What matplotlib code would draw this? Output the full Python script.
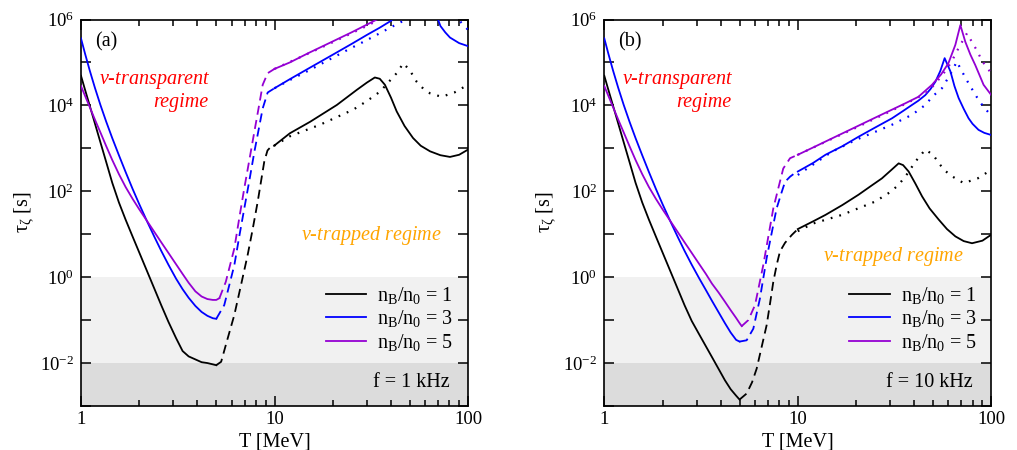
import numpy as np
import matplotlib
matplotlib.use("Agg")
import matplotlib.pyplot as plt
from matplotlib.ticker import LogLocator, FixedLocator, FuncFormatter, NullFormatter, NullLocator
from matplotlib.lines import Line2D

plt.rcParams['font.family'] = ['Liberation Serif', 'DejaVu Serif']
plt.rcParams['mathtext.fontset'] = 'custom'
plt.rcParams['mathtext.rm'] = 'Liberation Serif'
plt.rcParams['mathtext.it'] = 'Liberation Serif:italic'
plt.rcParams['mathtext.bf'] = 'Liberation Serif:bold'

BLACK, BLUE, PURPLE = '#000000', '#0000ff', '#9400d3'

# temperatures (MeV) of the low-T (neutrino-transparent) solid branch
T_low = [1.0, 1.05, 1.11, 1.18, 1.26, 1.35, 1.45, 1.57, 1.7, 1.85, 2.0, 2.2, 2.4,
         2.6, 2.83, 3.1, 3.35, 3.6, 3.9, 4.2, 4.5, 4.8, 5.0]

# ---------------- panel (a): f = 1 kHz ----------------  (values: log10(tau / s))
a_black_low_T = T_low
a_black_low_L = [4.69, 4.36, 3.99, 3.58, 3.14, 2.68, 2.20, 1.74, 1.34, 0.94, 0.575, 0.128, -0.28,
                 -0.656, -1.04, -1.42, -1.72, -1.845, -1.915, -1.98, -2.0, -2.03, -2.05]
a_black_mid_T = [5.0, 5.3, 5.7, 6.2, 6.7, 7.26, 7.7, 8.19, 8.86, 9.2, 9.5, 9.95]
a_black_mid_L = [-2.05, -1.97, -1.46, -0.88, -0.2, 0.51, 1.1, 1.76, 2.7, 2.95, 3.02, 3.06]
a_black_hi_T = [9.95, 12.0, 15.3, 21, 26.6, 30, 33, 35, 37.2, 40, 42.8, 47, 52, 57, 63.7, 72, 80.7, 90, 100]
a_black_hi_L = [3.06, 3.35, 3.62, 4.01, 4.36, 4.53, 4.65, 4.62, 4.48, 4.18, 3.86, 3.52, 3.24, 3.06, 2.93, 2.84, 2.80, 2.85, 2.97]
a_black_dot_T = [9.95, 12, 17.2, 25.5, 30, 35.1, 39, 42.8, 46.3, 50, 54.3, 59, 63.7, 73, 85, 100]
a_black_dot_L = [3.06, 3.28, 3.55, 3.90, 4.10, 4.32, 4.55, 4.75, 4.98, 4.82, 4.55, 4.38, 4.28, 4.20, 4.30, 4.48]

a_blue_low_T = T_low
a_blue_low_L = [5.56, 5.20, 4.81, 4.41, 4.01, 3.62, 3.24, 2.84, 2.45, 2.05, 1.70, 1.29, 0.93,
                0.61, 0.29, -0.035, -0.28, -0.48, -0.67, -0.81, -0.90, -0.956, -0.97]
a_blue_mid_T = [5.0, 5.5, 5.85, 6.2, 6.6, 6.98, 7.4, 7.87, 8.3, 8.69, 9.22, 10]
a_blue_mid_L = [-0.97, -0.65, -0.17, 0.28, 0.99, 1.60, 2.23, 2.92, 3.46, 3.93, 4.30, 4.40]
a_blue_hi_T = [10, 12, 15, 20, 25, 30, 35, 40, 45.6, 51.4, 57.4, 61.5, 67.8, 72, 76.3, 80.7, 90, 100]
a_blue_hi_L = [4.40, 4.61, 4.86, 5.18, 5.43, 5.64, 5.81, 5.97, 6.24, 6.55, 7.10, 6.79, 6.17, 5.85, 5.70, 5.58, 5.45, 5.38]
a_blue_dot_T = [10, 12, 15, 20, 25, 30, 35, 40, 47.8, 55.6, 62.6, 66.3, 74.6, 84, 90, 100]
a_blue_dot_L = [4.40, 4.59, 4.81, 5.11, 5.34, 5.52, 5.68, 5.82, 6.0, 6.40, 6.79, 7.02, 6.59, 6.20, 5.98, 5.76]

a_purple_low_T = T_low + [5.19]
a_purple_low_L = [4.45, 4.22, 3.96, 3.67, 3.37, 3.05, 2.73, 2.40, 2.10, 1.82, 1.58, 1.30, 1.045,
                  0.81, 0.565, 0.30, 0.075, -0.13, -0.33, -0.45, -0.51, -0.53, -0.53, -0.49]
a_purple_mid_T = [5.19, 5.6, 5.9, 6.2, 6.6, 6.98, 7.4, 7.87, 8.3, 8.69, 9.22, 10]
a_purple_mid_L = [-0.49, -0.11, 0.29, 0.67, 1.42, 2.07, 2.71, 3.39, 3.97, 4.48, 4.75, 4.85]
a_purple_hi_T = [10, 12, 15, 20, 25, 30, 33.8, 42, 49.4, 56, 65.2, 69.2, 73.4, 82.6, 91.2, 100]
a_purple_hi_L = [4.85, 5.0, 5.22, 5.49, 5.70, 5.88, 6.0, 6.20, 6.48, 6.86, 7.41, 7.87, 7.48, 6.94, 6.48, 6.24]
a_purple_dot_T = [10, 15, 20, 30, 33.8, 40, 50, 60, 74.9, 84, 96.5, 100]
a_purple_dot_L = [4.85, 5.21, 5.47, 5.85, 5.97, 6.2, 6.7, 7.1, 7.68, 7.29, 6.85, 6.72]

# ---------------- panel (b): f = 10 kHz ----------------
b_black_low_T = T_low
b_black_low_L = [4.69, 4.36, 3.99, 3.58, 3.14, 2.68, 2.20, 1.74, 1.34, 0.94, 0.575, 0.128, -0.28,
                 -0.656, -1.02, -1.34, -1.61, -1.86, -2.14, -2.40, -2.61, -2.76, -2.85]
b_black_mid_T = [5.0, 5.44, 5.8, 6.13, 6.5, 6.9, 7.2, 7.47, 7.8, 8.09, 8.59, 9.3, 10]
b_black_mid_L = [-2.85, -2.71, -2.45, -2.13, -1.63, -1.12, -0.59, -0.11, 0.31, 0.6, 0.80, 0.98, 1.12]
b_black_hi_T = [10, 12, 13.9, 17, 20.6, 24, 27.2, 30.5, 33.2, 35, 37.4, 40.5, 43.9, 48, 53.5, 59, 65.2, 72, 79.5, 90, 100]
b_black_hi_L = [1.12, 1.30, 1.45, 1.68, 1.92, 2.13, 2.30, 2.50, 2.65, 2.61, 2.46, 2.18, 1.88, 1.60, 1.34, 1.12, 0.95, 0.84, 0.79, 0.85, 0.99]
b_black_dot_T = [10, 12, 16.9, 25.1, 30, 33.2, 37, 40.5, 45.6, 50, 54.3, 58, 62.6, 72, 85, 100]
b_black_dot_L = [1.07, 1.25, 1.45, 1.76, 1.98, 2.15, 2.42, 2.69, 2.97, 2.85, 2.62, 2.47, 2.35, 2.19, 2.30, 2.50]

b_blue_low_T = T_low
b_blue_low_L = [5.56, 5.20, 4.81, 4.41, 4.01, 3.62, 3.24, 2.84, 2.45, 2.05, 1.70, 1.29, 0.93,
                0.61, 0.29, -0.035, -0.30, -0.55, -0.82, -1.07, -1.29, -1.46, -1.50]
b_blue_mid_T = [5.0, 5.44, 5.89, 6.37, 6.9, 7.3, 7.77, 8.2, 8.59, 9.12, 9.5, 10]
b_blue_mid_L = [-1.50, -1.47, -1.2, -0.5, 0.44, 0.99, 1.60, 1.94, 2.22, 2.34, 2.40, 2.46]
b_blue_hi_T = [10, 12, 13.9, 17, 20.6, 25, 30.7, 35, 38.9, 42, 45.6, 48.5, 51.4, 54.5, 57.4, 61.5, 64.5, 67.8, 72, 76.3, 80, 85.9, 92, 100]
b_blue_hi_L = [2.46, 2.66, 2.85, 3.05, 3.27, 3.48, 3.70, 3.87, 4.01, 4.11, 4.24, 4.38, 4.55, 4.80, 5.10, 4.79, 4.45, 4.17, 3.92, 3.70, 3.57, 3.43, 3.36, 3.31]
b_blue_dot_T = [10, 15, 20, 25, 30.7, 35, 38.9, 45.6, 50, 55.6, 60, 62.6, 66.3, 70, 74.6, 79, 84, 90, 96.5, 100]
b_blue_dot_L = [2.38, 2.92, 3.20, 3.38, 3.55, 3.68, 3.78, 4.01, 4.22, 4.40, 4.65, 4.79, 5.02, 4.82, 4.59, 4.40, 4.20, 4.0, 3.84, 3.77]

b_purple_low_T = T_low + [5.13]
b_purple_low_L = [4.45, 4.22, 3.96, 3.67, 3.37, 3.05, 2.73, 2.40, 2.10, 1.82, 1.58, 1.30, 1.045,
                  0.81, 0.565, 0.30, 0.075, -0.15, -0.36, -0.57, -0.77, -0.95, -1.07, -1.14]
b_purple_mid_T = [5.13, 5.55, 6.01, 6.63, 7.0, 7.47, 8.0, 8.41, 9.12, 10]
b_purple_mid_L = [-1.14, -1.0, -0.65, 0.28, 0.88, 1.60, 2.14, 2.53, 2.77, 2.85]
b_purple_hi_T = [10, 12, 15, 20, 25, 30, 36, 42, 49.4, 55, 60, 65.2, 69.2, 73.4, 78, 82.6, 87, 91.2, 100]
b_purple_hi_L = [2.85, 3.02, 3.23, 3.50, 3.71, 3.88, 4.05, 4.20, 4.48, 4.72, 4.98, 5.41, 5.87, 5.48, 5.18, 4.94, 4.70, 4.48, 4.24]
b_purple_dot_T = [10, 15, 20, 30, 40, 45.6, 50, 56, 62, 68, 74.9, 80, 84, 90, 96.5, 100]
b_purple_dot_L = [2.85, 3.22, 3.48, 3.86, 4.14, 4.28, 4.45, 4.71, 5.0, 5.35, 5.68, 5.45, 5.29, 5.02, 4.85, 4.72]

ratios = [1, 3, 5]
panel_labels = ['(a)', '(b)']
freq_labels = ['f = 1 kHz', 'f = 10 kHz']

panels = [
    {
        BLACK: (a_black_low_T, a_black_low_L, a_black_mid_T, a_black_mid_L, a_black_hi_T, a_black_hi_L, a_black_dot_T, a_black_dot_L),
        BLUE: (a_blue_low_T, a_blue_low_L, a_blue_mid_T, a_blue_mid_L, a_blue_hi_T, a_blue_hi_L, a_blue_dot_T, a_blue_dot_L),
        PURPLE: (a_purple_low_T, a_purple_low_L, a_purple_mid_T, a_purple_mid_L, a_purple_hi_T, a_purple_hi_L, a_purple_dot_T, a_purple_dot_L),
    },
    {
        BLACK: (b_black_low_T, b_black_low_L, b_black_mid_T, b_black_mid_L, b_black_hi_T, b_black_hi_L, b_black_dot_T, b_black_dot_L),
        BLUE: (b_blue_low_T, b_blue_low_L, b_blue_mid_T, b_blue_mid_L, b_blue_hi_T, b_blue_hi_L, b_blue_dot_T, b_blue_dot_L),
        PURPLE: (b_purple_low_T, b_purple_low_L, b_purple_mid_T, b_purple_mid_L, b_purple_hi_T, b_purple_hi_L, b_purple_dot_T, b_purple_dot_L),
    },
]

fig = plt.figure(figsize=(10.17, 4.5), dpi=100)
W, H = 1017.0, 450.0
lefts = [81.0, 604.3]
ax_w, ax_top, ax_bot = 387.0, 19.5, 406.0

FS_TICK = 13.5
FS_LAB = 14.5
FS_TXT = 14.5
LW = 1.3

def pow_fmt(v, pos):
    e = int(round(np.log10(v)))
    if e % 2 != 0:
        return ''
    return r'$\mathregular{10^{%d}}$' % e

ylabel_x = [-0.119, -0.122]
trap_pos = [(0.932, 0.442), (0.928, 0.386)]

for i, (left, data) in enumerate(zip(lefts, panels)):
    ax = fig.add_axes([left / W, 1 - ax_bot / H, ax_w / W, (ax_bot - ax_top) / H])
    ax.set_xscale('log')
    ax.set_yscale('log')
    ax.set_xlim(1, 100)
    ax.set_ylim(1e-3, 1e6)

    ax.axhspan(1e-2, 1.0, color='#f1f1f1', zorder=0, lw=0)
    ax.axhspan(1e-3, 1e-2, color='#dcdcdc', zorder=0, lw=0)

    for color, (lT, lL, mT, mL, hT, hL, dT, dL) in data.items():
        ax.plot(lT, 10 ** np.array(lL), color=color, lw=LW, zorder=3)
        ax.plot(mT, 10 ** np.array(mL), color=color, lw=LW, ls=(0, (5, 3)), zorder=3)
        ax.plot(hT, 10 ** np.array(hL), color=color, lw=LW, zorder=3)
        ax.plot(dT, 10 ** np.array(dL), color=color, lw=1.6, ls=(0, (0.8, 3.2)), zorder=3)

    ax.xaxis.set_major_locator(FixedLocator([1, 10, 100]))
    ax.xaxis.set_major_formatter(FuncFormatter(lambda v, p: '%d' % round(v)))
    ax.xaxis.set_minor_locator(LogLocator(base=10, subs=np.arange(2, 10)))
    ax.xaxis.set_minor_formatter(NullFormatter())
    ax.yaxis.set_major_locator(FixedLocator([10.0 ** k for k in range(-3, 7)]))
    ax.yaxis.set_major_formatter(FuncFormatter(pow_fmt))
    ax.yaxis.set_minor_locator(NullLocator())

    ax.tick_params(which='both', direction='in', top=True, right=True, width=1.1)
    ax.tick_params(which='major', length=7.5, labelsize=FS_TICK)
    ax.tick_params(axis='x', which='major', pad=3.5)
    ax.tick_params(axis='y', which='major', pad=5)
    ax.tick_params(which='minor', length=4)
    for sp in ax.spines.values():
        sp.set_linewidth(1.2)

    ax.set_xlabel('T [MeV]', fontsize=FS_LAB)
    ax.xaxis.set_label_coords(0.5, -0.068)
    ax.set_ylabel(r'$\mathregular{\tau_\zeta}$ [s]', fontsize=FS_LAB)
    ax.yaxis.set_label_coords(ylabel_x[i], 0.5)

    ax.text(0.065, 0.943, panel_labels[i], transform=ax.transAxes, fontsize=FS_TXT,
            ha='center', va='center')
    ax.text(0.335, 0.843, r'$\mathregular{\nu}$-transparent', transform=ax.transAxes,
            fontsize=FS_TXT, style='italic', color='#ff0000', ha='right', va='center')
    ax.text(0.328, 0.786, 'regime', transform=ax.transAxes,
            fontsize=FS_TXT, style='italic', color='#ff0000', ha='right', va='center')
    tx, ty = trap_pos[i]
    ax.text(tx, ty, r'$\mathregular{\nu}$-trapped regime', transform=ax.transAxes,
            fontsize=FS_TXT, style='italic', color='#ffa500', ha='right', va='center')
    ax.text(0.953, 0.06, freq_labels[i], transform=ax.transAxes, fontsize=FS_TXT,
            ha='right', va='center')

    handles = [Line2D([], [], color=c, lw=LW) for c in (BLACK, BLUE, PURPLE)]
    labels = [r'n$_\mathregular{B}$/n$_\mathregular{0}$ = %d' % r for r in ratios]
    ax.legend(handles, labels, loc='upper left', bbox_to_anchor=(0.633, 0.313),
              frameon=False, fontsize=FS_TXT, handlelength=2.0, handletextpad=0.55,
              labelspacing=0.12, borderpad=0, borderaxespad=0)

fig.savefig('out.png', dpi=100)
